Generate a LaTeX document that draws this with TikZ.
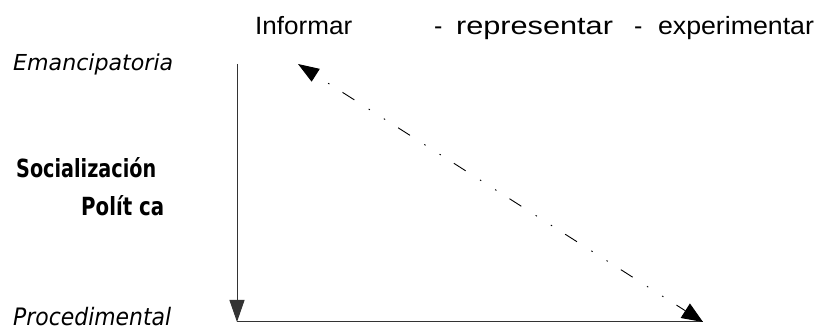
\documentclass[tikz,border=0pt]{standalone}
\usepackage{fontspec}
\usepackage{graphicx}
\usetikzlibrary{arrows.meta}
\setmainfont{Liberation Sans}
\newfontfamily\djv{DejaVu Sans}
\tikzset{
  toptext/.style={anchor=base west, inner sep=0pt, font=\fontsize{25}{30}\selectfont},
  sidetext/.style={anchor=base west, inner sep=0pt, font=\djv\itshape\fontsize{22}{26}\selectfont},
  bigside/.style={anchor=base west, inner sep=0pt, font=\djv\itshape\fontsize{24}{29}\selectfont},
  boldtext/.style={anchor=base west, inner sep=0pt, font=\djv\bfseries\fontsize{25}{30}\selectfont},
  axis/.style={draw=black!80, line width=1pt},
  diag/.style={draw=black, line width=0.9pt, dash pattern=on 14pt off 17pt on 1.5pt off 16.5pt on 1.5pt off 15.5pt, dash phase=34pt}
}
\begin{document}
\begin{tikzpicture}[x=1pt,y=-1pt]
\useasboundingbox (0,0) rectangle (817,328);
% texts
\node[toptext] (inf) at (255,35) {\resizebox{97pt}{\height}{Informar}};
\node[toptext] (rep) at (434,35) {-\hspace{13.5pt}\resizebox{157pt}{\height}{representar}};
\node[toptext] (exp) at (634,35) {-\hspace{15.5pt}\resizebox{156pt}{\height}{experimentar}};
\node[sidetext] (ema) at (13,71) {\resizebox{160pt}{\height}{Emancipatoria}};
\node[bigside] (pro) at (13,326) {\resizebox{158pt}{\height}{Procedimental}};
\node[boldtext] (soc) at (16,178) {\resizebox{140pt}{\height}{Socialización}};
\node[boldtext] (pol) at (81,216) {\resizebox{83pt}{\height}{Polít ca}};
% axes
\coordinate (top) at (237,64);
\coordinate (corner) at (237,322);
\coordinate (da) at (298,64);
\coordinate (db) at (703,322);
\draw[axis, -{Triangle[length=22pt,width=15pt]}] (top) -- (corner);
\draw[axis] (corner) -- (db);
\draw[diag, {Triangle[length=21pt,width=15pt]}-{Triangle[length=21pt,width=17pt]}] (da) -- (db);
\end{tikzpicture}
\end{document}
